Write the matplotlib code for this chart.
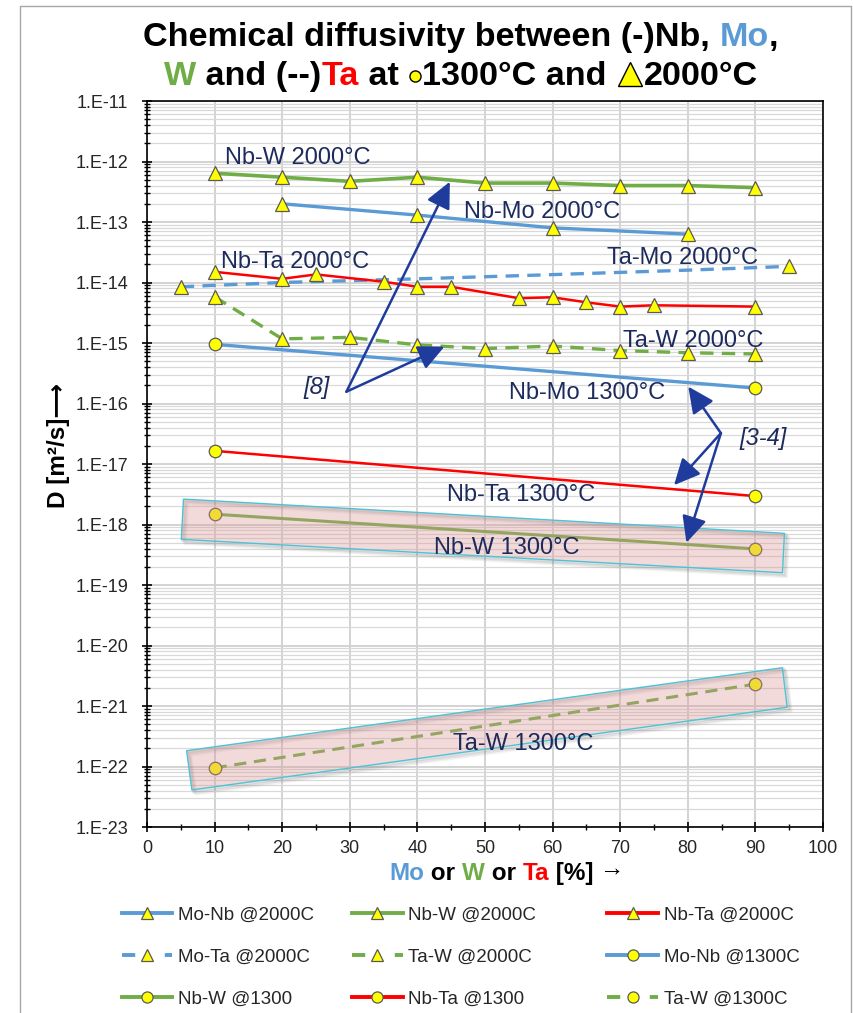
import numpy as np
import matplotlib
matplotlib.use('Agg')
import matplotlib.pyplot as plt
from matplotlib.lines import Line2D
from matplotlib.patches import Polygon
from matplotlib.transforms import ScaledTranslation
from matplotlib.ticker import LogLocator, FuncFormatter, MultipleLocator, NullFormatter

FAM = ['Liberation Sans', 'DejaVu Sans']
plt.rcParams['font.family'] = FAM

W, H, DPI = 854, 1013, 100

# ---------------- data ----------------
nbw_2000_x = [10, 20, 30, 40, 50, 60, 70, 80, 90]
nbw_2000_y = [6.4e-13, 5.5e-13, 4.7e-13, 5.5e-13, 4.4e-13, 4.4e-13, 4.0e-13, 4.0e-13, 3.7e-13]
nbmo_2000_x = [20, 40, 60, 80]
nbmo_2000_y = [2.0e-13, 1.3e-13, 8.0e-14, 6.3e-14]
nbta_2000_x = [10, 20, 25, 35, 40, 45, 55, 60, 65, 70, 75, 90]
nbta_2000_y = [1.5e-14, 1.15e-14, 1.36e-14, 1.03e-14, 8.5e-15, 8.5e-15, 5.5e-15, 5.7e-15,
               4.7e-15, 4.0e-15, 4.2e-15, 4.0e-15]
tamo_2000_x = [5, 20, 40, 60, 80, 95]
tamo_2000_y = [8.5e-15, 1.0e-14, 1.15e-14, 1.35e-14, 1.6e-14, 1.85e-14]
taw_2000_x = [10, 20, 30, 40, 50, 60, 70, 80, 90]
taw_2000_y = [5.8e-15, 1.17e-15, 1.24e-15, 9.3e-16, 8.1e-16, 8.9e-16, 7.5e-16, 6.9e-16, 6.6e-16]
nbmo_1300_x = [10, 90]
nbmo_1300_y = [9.5e-16, 1.8e-16]
nbta_1300_x = [10, 90]
nbta_1300_y = [1.65e-17, 2.95e-18]
nbw_1300_x = [10, 90]
nbw_1300_y = [1.48e-18, 3.95e-19]
taw_1300_x = [10, 90]
taw_1300_y = [9.5e-23, 2.3e-21]

x_ticks = [0, 10, 20, 30, 40, 50, 60, 70, 80, 90, 100]

# highlight boxes (corners: x, log10 D)
box1 = [(5.4, -17.58), (94.3, -18.146), (94.0, -18.797), (5.07, -18.245)]
box2 = [(5.86, -21.739), (94.0, -20.367), (94.7, -21.021), (6.64, -22.388)]

# curve labels: text, x, log10 D
curve_labels = [
    ("Nb-W 2000°C", 11.5, -11.94),
    ("Nb-Mo 2000°C", 46.9, -12.835),
    ("Ta-Mo 2000°C", 68.0, -13.595),
    ("Nb-Ta 2000°C", 11.0, -13.66),
    ("Ta-W 2000°C", 70.4, -14.97),
    ("Nb-Mo 1300°C", 53.6, -15.83),
    ("Nb-Ta 1300°C", 44.4, -17.52),
    ("Nb-W 1300°C", 42.4, -18.39),
    ("Ta-W 1300°C", 45.3, -21.63),
]

# reference arrows: (label, label x, label log D, start, [tips])
ref8 = ("[8]", 25.1, -15.74, (29.5, -15.805), [(44.8, -12.334), (44.0, -15.06)])
ref34 = ("[3-4]", 91.2, -16.575, (84.9, -16.49), [(80.07, -15.72), (77.96, -17.35), (79.8, -18.30)])

# ---------------- styles ----------------
BLUE = '#5b9bd5'
GREEN = '#70ad47'
RED = '#ff0000'
NAVY = '#1c2a5c'
ARROW = '#1f3c9c'
mk = dict(mfc='#ffff00', mec='#595959', mew=0.9)

fig = plt.figure(figsize=(W / DPI, H / DPI), dpi=DPI)
fig.patch.set_facecolor('white')
ax = fig.add_axes([147 / W, 1 - 827 / H, 676 / W, 726 / H])
ax.set_yscale('log')
ax.set_xlim(0, 100)
ax.set_ylim(1e-23, 1e-11)

ax.xaxis.set_major_locator(MultipleLocator(10))
ax.xaxis.set_minor_locator(MultipleLocator(5))
ax.yaxis.set_major_locator(LogLocator(base=10, numticks=30))
ax.yaxis.set_minor_locator(LogLocator(base=10, subs=np.arange(2, 10), numticks=200))
ax.yaxis.set_major_formatter(FuncFormatter(lambda v, p: f"1.E{int(round(np.log10(v)))}"))
ax.yaxis.set_minor_formatter(NullFormatter())
ax.set_xticks(x_ticks)

ax.grid(which='major', axis='both', color='#d0d0d0', lw=1.3, zorder=0)
ax.grid(which='minor', axis='y', color='#d9d9d9', lw=0.9, zorder=0)
ax.set_axisbelow(True)
for s in ax.spines.values():
    s.set_color('black')
    s.set_linewidth(1.2)
ax.tick_params(which='major', direction='inout', length=7, width=1.2, labelsize=13,
               labelcolor='#262626')
ax.tick_params(which='minor', direction='inout', length=4, width=1.0)
ax.tick_params(axis='y', which='major', pad=10)
ax.tick_params(axis='x', which='major', pad=6)

# ---------------- series ----------------
ax.plot(nbw_2000_x, nbw_2000_y, color=GREEN, lw=2.6, marker='^', ms=10, zorder=4, **mk)
ax.plot(nbmo_2000_x, nbmo_2000_y, color=BLUE, lw=2.4, marker='^', ms=10, zorder=4, **mk)
ax.plot(tamo_2000_x, tamo_2000_y, color=BLUE, lw=2.4, ls=(0, (4, 2.5)), marker='^', ms=10,
        markevery=[0, len(tamo_2000_x) - 1], zorder=3, **mk)
ax.plot(nbta_2000_x, nbta_2000_y, color=RED, lw=1.8, marker='^', ms=10, zorder=4, **mk)
ax.plot(taw_2000_x, taw_2000_y, color=GREEN, lw=2.4, ls=(0, (4, 2.5)), marker='^', ms=10, zorder=4, **mk)
ax.plot(nbmo_1300_x, nbmo_1300_y, color=BLUE, lw=2.4, marker='o', ms=9, zorder=4, **mk)
ax.plot(nbta_1300_x, nbta_1300_y, color=RED, lw=1.8, marker='o', ms=9, zorder=4, **mk)
ax.plot(nbw_1300_x, nbw_1300_y, color=GREEN, lw=2.2, marker='o', ms=9, zorder=4, **mk)
ax.plot(taw_1300_x, taw_1300_y, color=GREEN, lw=2.2, ls=(0, (4, 2.5)), marker='o', ms=9, zorder=4, **mk)

# highlight boxes
for box in (box1, box2):
    pts = [(bx, 10 ** by) for bx, by in box]
    for k, (off, a) in enumerate([(3.0, 0.08), (2.0, 0.12), (1.0, 0.16)]):
        shadow = Polygon(pts, closed=True, fc='none', ec='#606060', lw=2.0, alpha=a,
                         transform=ax.transData + ScaledTranslation(off / 72, -off / 72,
                                                                    fig.dpi_scale_trans),
                         zorder=5)
        ax.add_patch(shadow)
    ax.add_patch(Polygon(pts, closed=True, fc='#d99694', alpha=0.35, ec='none', zorder=6))
    ax.add_patch(Polygon(pts, closed=True, fc='none', ec='#4bc3d6', lw=1.0, zorder=6))

# curve labels
for txt, lx, ly in curve_labels:
    ax.text(lx, 10 ** ly, txt, fontsize=17, color=NAVY, ha='left', va='center', zorder=8)

# reference arrows
for lab, lx, ly, start, tips in (ref8, ref34):
    ax.text(lx, 10 ** ly, lab, fontsize=17, color=NAVY, style='italic', ha='center', va='center', zorder=8)
    for tx, ty in tips:
        ax.annotate('', xy=(tx, 10 ** ty), xytext=(start[0], 10 ** start[1]),
                    arrowprops=dict(arrowstyle='-|>,head_length=0.8,head_width=0.38',
                                    color=ARROW, lw=1.8, mutation_scale=20,
                                    shrinkA=0, shrinkB=0), zorder=9)

# ---------------- rich text helpers ----------------
fig.canvas.draw()
renderer = fig.canvas.get_renderer()


def text_width(s, size, weight):
    t1 = fig.text(0, 0, '|' + s + '|', fontsize=size, weight=weight)
    t2 = fig.text(0, 0, '||', fontsize=size, weight=weight)
    w = t1.get_window_extent(renderer).width - t2.get_window_extent(renderer).width
    t1.remove()
    t2.remove()
    return w


def rich(pieces, xc, ybase, size, weight='bold'):
    widths = []
    for p in pieces:
        if p[0] == '__marker__':
            widths.append(p[2])
        else:
            widths.append(text_width(p[0], size, p[3] if len(p) > 3 else weight))
    x = xc - sum(widths) / 2
    for p, w in zip(pieces, widths):
        if p[0] == '__marker__':
            m, _, ms, dy = p[1], p[2], p[3], p[4]
            fig.add_artist(Line2D([(x + w / 2) / W], [1 - (ybase - dy) / H], marker=m, ms=ms,
                                  mfc='#ffff00', mec='black', mew=1.0, ls='none',
                                  transform=fig.transFigure))
        else:
            wt = p[3] if len(p) > 3 else weight
            dy = p[2] if len(p) > 2 else 0
            fig.text(x / W, 1 - (ybase - dy) / H, p[0], color=p[1], fontsize=size, weight=wt,
                     ha='left', va='baseline')
        x += w


# title
line1 = [("Chemical diffusivity between (-)Nb, ", 'black'), ("Mo", BLUE), (",", 'black')]
w1 = sum(text_width(p[0], 24, 'bold') for p in line1)
tsize = 24 * 638 / w1
rich(line1, 461, 46, tsize)
line2 = [("W", GREEN), (" and (--)", 'black'), ("Ta", RED), (" at ", 'black'),
         ('__marker__', 'o', 14, 8, 9), ("1300°C and ", 'black'),
         ('__marker__', '^', 28, 17, 11), ("2000°C", 'black')]
rich(line2, 461, 85, tsize)

# x label
xl = [("Mo", BLUE), (" or ", 'black'), ("W", GREEN), (" or ", 'black'), ("Ta", RED),
      (" [%] ", 'black'), ("→", 'black', 5, 'normal')]
rich(xl, 507, 880, 17.5)

# y label
fig.text(58 / W, 1 - 445 / H, "D [m²/s]⟶", rotation=90, fontsize=17.5, weight='bold',
         ha='center', va='center', color='black')

# ---------------- legend ----------------
def h(color, ls, marker, ms):
    return Line2D([], [], color=color, lw=2.8, ls=ls, marker=marker, ms=ms,
                  mfc='#ffff00', mec='#595959', mew=0.9)

DASH = (0, (3.4, 7.6))
cols = [
    (121.7, [(h(BLUE, '-', '^', 8), "Mo-Nb @2000C"), (h(BLUE, DASH, '^', 8), "Mo-Ta @2000C"),
             (h(GREEN, '-', 'o', 8), "Nb-W @1300")]),
    (352.0, [(h(GREEN, '-', '^', 8), "Nb-W @2000C"), (h(GREEN, DASH, '^', 8), "Ta-W @2000C"),
             (h(RED, '-', 'o', 8), "Nb-Ta @1300")]),
    (607.3, [(h(RED, '-', '^', 8), "Nb-Ta @2000C"), (h(BLUE, '-', 'o', 8), "Mo-Nb @1300C"),
             (h(GREEN, DASH, 'o', 8), "Ta-W @1300C")]),
]
for x0, entries in cols:
    fig.legend(handles=[e[0] for e in entries], labels=[e[1] for e in entries],
               loc='center left', bbox_to_anchor=(x0 / W, 1 - 957 / H), frameon=False,
               fontsize=13.5, handlelength=2.7, handletextpad=0.3, labelspacing=1.33,
               borderpad=0, borderaxespad=0, labelcolor='#262626')

# outer frame
fig.add_artist(Line2D([20 / W, 20 / W, 851 / W, 851 / W], [0, 1 - 6 / H, 1 - 6 / H, 0],
                      transform=fig.transFigure, color='#a6a6a6', lw=1.0))

fig.savefig('out.png', dpi=DPI)
